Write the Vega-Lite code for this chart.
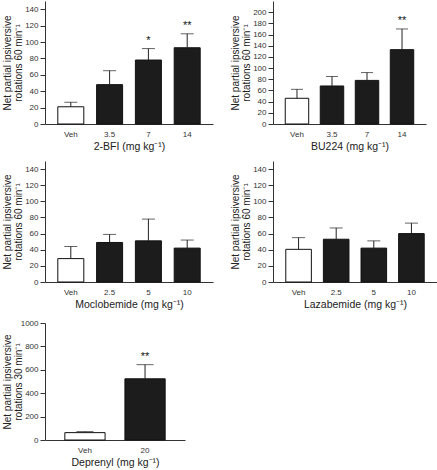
{
  "$schema": "https://vega.github.io/schema/vega-lite/v6.json",
  "padding": {"left": 2, "top": 1, "right": 0, "bottom": 0},
  "background": "white",
  "datasets": {
    "p1": [
      {"dose": "Veh", "mean": 21, "upper": 26.5, "group": "veh", "sig": ""},
      {"dose": "3.5", "mean": 48, "upper": 65, "group": "drug", "sig": ""},
      {"dose": "7", "mean": 78, "upper": 92, "group": "drug", "sig": "*"},
      {"dose": "14", "mean": 93, "upper": 110, "group": "drug", "sig": "**"}
    ],
    "p2": [
      {"dose": "Veh", "mean": 46, "upper": 62, "group": "veh", "sig": ""},
      {"dose": "3.5", "mean": 68, "upper": 85, "group": "drug", "sig": ""},
      {"dose": "7", "mean": 78, "upper": 92, "group": "drug", "sig": ""},
      {"dose": "14", "mean": 133, "upper": 170, "group": "drug", "sig": "**"}
    ],
    "p3": [
      {"dose": "Veh", "mean": 29, "upper": 44, "group": "veh", "sig": ""},
      {"dose": "2.5", "mean": 49, "upper": 59, "group": "drug", "sig": ""},
      {"dose": "5", "mean": 51, "upper": 78, "group": "drug", "sig": ""},
      {"dose": "10", "mean": 42, "upper": 52, "group": "drug", "sig": ""}
    ],
    "p4": [
      {"dose": "Veh", "mean": 40.5, "upper": 55, "group": "veh", "sig": ""},
      {"dose": "2.5", "mean": 53, "upper": 67, "group": "drug", "sig": ""},
      {"dose": "5", "mean": 42, "upper": 51, "group": "drug", "sig": ""},
      {"dose": "10", "mean": 60, "upper": 73, "group": "drug", "sig": ""}
    ],
    "p5": [
      {"dose": "Veh", "mean": 63, "upper": 72, "group": "veh", "sig": ""},
      {"dose": "20", "mean": 523, "upper": 644, "group": "drug", "sig": "**"}
    ]
  },
  "vconcat": [
    {
      "hconcat": [
        {
          "width": 168, "height": 123,
          "data": {"name": "p1"},
          "encoding": {
            "x": {"field": "dose", "type": "nominal", "sort": null, "scale": {"paddingInner": 0.33, "paddingOuter": 0.33}, "axis": {"title": "2-BFI (mg kg⁻¹)", "ticks": false, "labelAngle": 0, "labelPadding": 6, "titlePadding": 3, "titleFontSize": 10.5}},
            "y": {"field": "mean", "type": "quantitative", "scale": {"domain": [0, 150], "nice": false}, "axis": {"title": ["Net partial ipsiversive", "rotations 60 min⁻¹"], "values": [0, 20, 40, 60, 80, 100, 120, 140], "tickSize": 5, "labelPadding": 2, "titlePadding": 2, "minExtent": 20, "maxExtent": 20, "titleLineHeight": 10.5}}
          },
          "layer": [
            {"mark": {"type": "bar", "stroke": "#111", "strokeWidth": 1}, "encoding": {"fill": {"field": "group", "type": "nominal", "scale": {"domain": ["veh", "drug"], "range": ["#ffffff", "#1c1c1c"]}, "legend": null}}},
            {"mark": {"type": "rule", "color": "#222", "strokeWidth": 1}, "encoding": {"y2": {"field": "upper"}}},
            {"mark": {"type": "tick", "size": 13, "thickness": 1, "color": "#222"}, "encoding": {"y": {"field": "upper", "type": "quantitative"}}},
            {"mark": {"type": "text", "baseline": "alphabetic", "dy": -5, "fontSize": 11, "fill": "#111"}, "encoding": {"y": {"field": "upper", "type": "quantitative"}, "text": {"field": "sig"}}}
          ]
        },
        {
          "width": 153, "height": 123,
          "data": {"name": "p2"},
          "encoding": {
            "x": {"field": "dose", "type": "nominal", "sort": null, "scale": {"paddingInner": 0.33, "paddingOuter": 0.35}, "axis": {"title": "BU224 (mg kg⁻¹)", "ticks": false, "labelAngle": 0, "labelPadding": 6, "titlePadding": 3, "titleFontSize": 10.5}},
            "y": {"field": "mean", "type": "quantitative", "scale": {"domain": [0, 220], "nice": false}, "axis": {"title": ["Net partial ipsiversive", "rotations 60 min⁻¹"], "values": [0, 20, 40, 60, 80, 100, 120, 140, 160, 180, 200], "tickSize": 5, "labelPadding": 2, "titlePadding": 2, "minExtent": 20, "maxExtent": 20, "titleLineHeight": 10.5}}
          },
          "layer": [
            {"mark": {"type": "bar", "stroke": "#111", "strokeWidth": 1}, "encoding": {"fill": {"field": "group", "type": "nominal", "scale": {"domain": ["veh", "drug"], "range": ["#ffffff", "#1c1c1c"]}, "legend": null}}},
            {"mark": {"type": "rule", "color": "#222", "strokeWidth": 1}, "encoding": {"y2": {"field": "upper"}}},
            {"mark": {"type": "tick", "size": 12, "thickness": 1, "color": "#222"}, "encoding": {"y": {"field": "upper", "type": "quantitative"}}},
            {"mark": {"type": "text", "baseline": "alphabetic", "dy": -5, "fontSize": 11, "fill": "#111"}, "encoding": {"y": {"field": "upper", "type": "quantitative"}, "text": {"field": "sig"}}}
          ]
        }
      ],
      "spacing": 17
    },
    {
      "hconcat": [
        {
          "width": 168, "height": 121,
          "data": {"name": "p3"},
          "encoding": {
            "x": {"field": "dose", "type": "nominal", "sort": null, "scale": {"paddingInner": 0.33, "paddingOuter": 0.33}, "axis": {"title": "Moclobemide (mg kg⁻¹)", "ticks": false, "labelAngle": 0, "labelPadding": 6, "titlePadding": 3, "titleFontSize": 10.5}},
            "y": {"field": "mean", "type": "quantitative", "scale": {"domain": [0, 150], "nice": false}, "axis": {"title": ["Net partial ipsiversive", "rotations 60 min⁻¹"], "values": [0, 20, 40, 60, 80, 100, 120, 140], "tickSize": 5, "labelPadding": 2, "titlePadding": 2, "minExtent": 20, "maxExtent": 20, "titleLineHeight": 10.5}}
          },
          "layer": [
            {"mark": {"type": "bar", "stroke": "#111", "strokeWidth": 1}, "encoding": {"fill": {"field": "group", "type": "nominal", "scale": {"domain": ["veh", "drug"], "range": ["#ffffff", "#1c1c1c"]}, "legend": null}}},
            {"mark": {"type": "rule", "color": "#222", "strokeWidth": 1}, "encoding": {"y2": {"field": "upper"}}},
            {"mark": {"type": "tick", "size": 13, "thickness": 1, "color": "#222"}, "encoding": {"y": {"field": "upper", "type": "quantitative"}}}
          ]
        },
        {
          "width": 164, "height": 121,
          "data": {"name": "p4"},
          "encoding": {
            "x": {"field": "dose", "type": "nominal", "sort": null, "scale": {"paddingInner": 0.32, "paddingOuter": 0.34}, "axis": {"title": "Lazabemide (mg kg⁻¹)", "ticks": false, "labelAngle": 0, "labelPadding": 6, "titlePadding": 3, "titleFontSize": 10.5}},
            "y": {"field": "mean", "type": "quantitative", "scale": {"domain": [0, 150], "nice": false}, "axis": {"title": ["Net partial ipsiversive", "rotations 60 min⁻¹"], "values": [0, 20, 40, 60, 80, 100, 120, 140], "tickSize": 5, "labelPadding": 2, "titlePadding": 2, "minExtent": 20, "maxExtent": 20, "titleLineHeight": 10.5}}
          },
          "layer": [
            {"mark": {"type": "bar", "stroke": "#111", "strokeWidth": 1}, "encoding": {"fill": {"field": "group", "type": "nominal", "scale": {"domain": ["veh", "drug"], "range": ["#ffffff", "#1c1c1c"]}, "legend": null}}},
            {"mark": {"type": "rule", "color": "#222", "strokeWidth": 1}, "encoding": {"y2": {"field": "upper"}}},
            {"mark": {"type": "tick", "size": 13, "thickness": 1, "color": "#222"}, "encoding": {"y": {"field": "upper", "type": "quantitative"}}}
          ]
        }
      ],
      "spacing": 17
    },
    {
      "width": 140, "height": 117,
      "data": {"name": "p5"},
      "encoding": {
        "x": {"field": "dose", "type": "nominal", "sort": null, "scale": {"paddingInner": 0.33, "paddingOuter": 0.33}, "axis": {"title": "Deprenyl (mg kg⁻¹)", "ticks": false, "labelAngle": 0, "labelPadding": 6, "titlePadding": 3, "titleFontSize": 10.5}},
        "y": {"field": "mean", "type": "quantitative", "scale": {"domain": [0, 1000], "nice": false}, "axis": {"title": ["Net partial ipsiversive", "rotations 30 min⁻¹"], "values": [0, 200, 400, 600, 800, 1000], "format": "d", "tickSize": 5, "labelPadding": 2, "titlePadding": 2, "minExtent": 20, "maxExtent": 20, "titleLineHeight": 10.5}}
      },
      "layer": [
        {"mark": {"type": "bar", "stroke": "#111", "strokeWidth": 1}, "encoding": {"fill": {"field": "group", "type": "nominal", "scale": {"domain": ["veh", "drug"], "range": ["#ffffff", "#1c1c1c"]}, "legend": null}}},
        {"mark": {"type": "rule", "color": "#222", "strokeWidth": 1}, "encoding": {"y2": {"field": "upper"}}},
        {"mark": {"type": "tick", "size": 17, "thickness": 1, "color": "#222"}, "encoding": {"y": {"field": "upper", "type": "quantitative"}}},
        {"mark": {"type": "text", "baseline": "alphabetic", "dy": -5, "fontSize": 11, "fill": "#111"}, "encoding": {"y": {"field": "upper", "type": "quantitative"}, "text": {"field": "sig"}}}
      ]
    }
  ],
  "spacing": 9,
  "config": {
    "view": {"stroke": null},
    "font": "Liberation Sans",
    "axis": {
      "grid": false,
      "domainColor": "#333",
      "tickColor": "#333",
      "labelColor": "#333",
      "titleColor": "#222",
      "labelFont": "Liberation Sans",
      "titleFont": "Liberation Sans",
      "labelFontSize": 8,
      "titleFontSize": 10,
      "titleFontWeight": "normal",
      "domainWidth": 1,
      "tickWidth": 1
    }
  }
}
